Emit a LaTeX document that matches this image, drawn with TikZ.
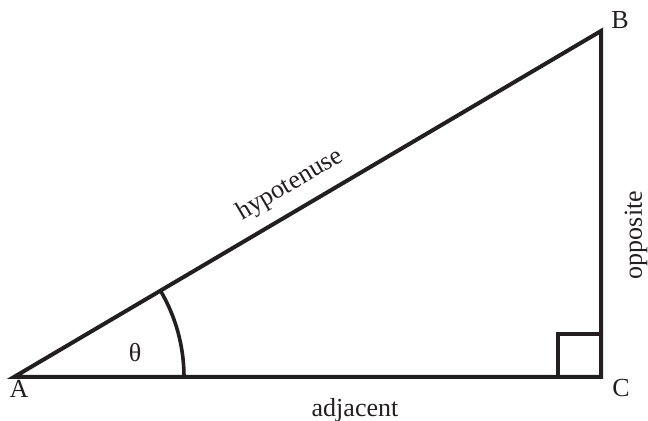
\documentclass[tikz,border=0pt]{standalone}
\usepackage{fontspec}
\setmainfont{Liberation Serif}
\usepackage{tikz}
\usetikzlibrary{calc, positioning}
\definecolor{mydark}{RGB}{35,31,32}
\tikzset{
  side/.style={line width=2pt, color=mydark, line cap=rect},
  vlabel/.style={font=\fontsize{13}{15}\selectfont, text=mydark, inner sep=0pt},
  slabel/.style={font=\fontsize{13}{15}\selectfont, text=mydark, inner sep=1pt}
}

\begin{document}
\begin{tikzpicture}[x=0.5pt, y=-0.5pt]
  \useasboundingbox (0,0) rectangle (648,421);

  % Vertices of the triangle
  \coordinate (A) at (14, 377);
  \coordinate (C) at (601, 377);
  \coordinate (B) at (601, 31);

  % Sides
  \draw[side, line join=miter] (A) -- (C) -- (B) -- cycle;

  % Right angle marker at C
  \coordinate (rtop) at (601, 334);
  \coordinate (rleft) at (558, 377);
  \draw[side, line width=1.8pt] (rleft) |- (rtop);

  % Angle theta at A (y runs downwards, so the angle is negative)
  \coordinate (arcstart) at ($(A)+(170,0)$);
  \draw[side, line width=1.8pt, line cap=butt] (arcstart) arc[start angle=0, end angle=-30.5, radius=170];
  \node[vlabel] (theta) at (135, 353) {θ};

  % Vertex labels
  \node[vlabel] (labA) at (19, 389) {A};
  \node[vlabel] (labB) at (620, 20) {B};
  \node[vlabel] (labC) at (621, 388) {C};

  % Side labels
  \node[slabel, rotate=30.5] (hyp) at (290, 185) {hypotenuse};
  \node[slabel, rotate=90] (opp) at (636, 235) {opposite};
  \node[slabel] (adj) at (355, 410) {adjacent};
\end{tikzpicture}
\end{document}
